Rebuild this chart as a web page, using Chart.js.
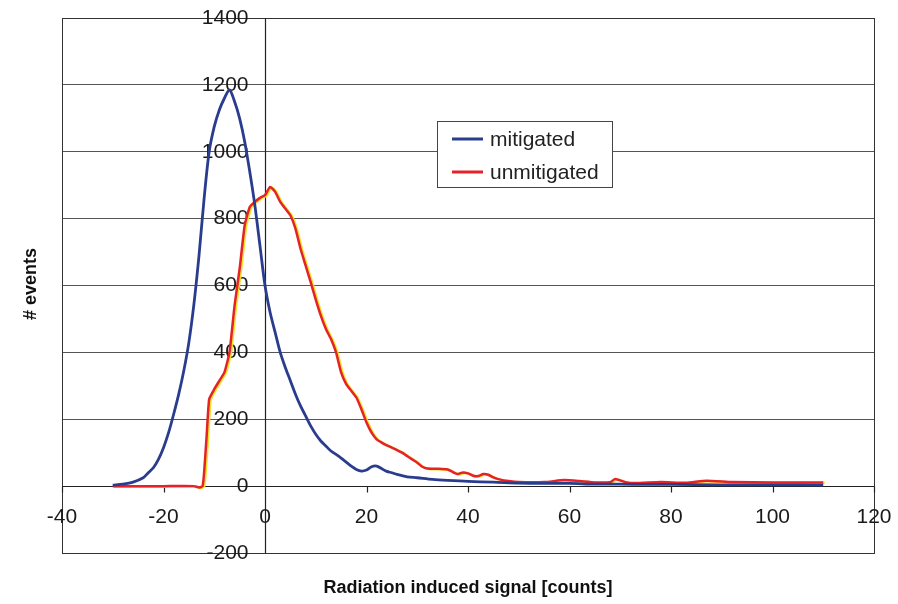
<!DOCTYPE html>
<html>
<head>
<meta charset="utf-8">
<script src="https://cdn.jsdelivr.net/npm/chart.js@4/dist/chart.umd.min.js"></script>
<style>
  html, body { margin: 0; padding: 0; background: #fff; }
</style>
</head>
<body>
<canvas id="chart" width="898" height="604"></canvas>
<script>
// 读自原图的数据
const seriesNames = ['mitigated', 'unmitigated'];

const xMitigated = [-30, -28, -26, -24, -23, -22, -21, -20, -19, -18, -17, -16, -15, -14, -13, -12, -11, -10, -9, -8, -7, -6, -5, -4, -3, -2, -1, 0, 1, 2, 3, 4, 5, 6, 7, 8, 9, 10, 11, 12, 13, 14, 15, 16, 17, 18, 19, 20, 21, 22, 23, 24, 25, 26, 28, 30, 33, 36, 40, 45, 50, 55, 60, 65, 70, 75, 80, 90, 100, 110];
const yMitigated = [3, 6, 12, 25, 40, 55, 80, 115, 160, 215, 275, 345, 430, 545, 690, 860, 1000, 1075, 1125, 1160, 1185, 1150, 1100, 1030, 940, 840, 720, 600, 520, 460, 400, 355, 315, 275, 240, 210, 180, 155, 135, 120, 105, 95, 84, 72, 60, 50, 45, 48, 58, 60, 52, 44, 40, 35, 28, 25, 20, 17, 14, 12, 9, 8, 8, 6, 6, 5, 5, 4, 4, 3];

const xUnmitigated = [-30, -20, -14, -13, -12.3, -12, -11.5, -11, -10, -9, -8, -7, -6, -5, -4, -3, -2, -1, 0, 1, 2, 3, 4, 5, 6, 7, 8, 9, 10, 11, 12, 13, 14, 15, 16, 17, 18, 19, 20, 21, 22, 23, 24, 25, 26, 27, 28, 29, 30, 31, 32, 34, 36, 37, 38, 39, 40, 41, 42, 43, 44, 45, 46, 48, 50, 55, 59, 62, 65, 68, 69, 71, 73, 78, 83, 87, 92, 100, 110];
const yUnmitigated = [0, 0, 0, -4, 0, 40, 150, 260, 290, 315, 340, 400, 540, 650, 780, 835, 850, 862, 870, 895, 880, 850, 830, 810, 770, 710, 660, 610, 558, 510, 470, 440, 400, 340, 305, 285, 265, 230, 190, 160, 140, 130, 122, 115, 108, 100, 90, 80, 70, 58, 53, 52, 50, 42, 36, 41, 38, 31, 30, 36, 34, 26, 21, 15, 12, 12, 18, 15, 11, 12, 21, 12, 9, 12, 10, 16, 12, 11, 11];

const xTicks = [-40, -20, 0, 20, 40, 60, 80, 100, 120];
const yTicks = [-200, 0, 200, 400, 600, 800, 1000, 1200, 1400];

const xTitle = 'Radiation induced signal [counts]';
const yTitle = '# events';

const FONT = '"Liberation Sans", Arial, sans-serif';
const colors = {
  mitigated: '#2a3c8e',   // 深蓝
  unmitigated: '#e42228'  // 红
};

function toPoints(xs, ys) {
  return xs.map((x, i) => ({ x: x, y: ys[i] }));
}

// 轴线、刻度标签、标题、图例，都按比例尺换算位置
const axesPlugin = {
  id: 'crossAxes',
  beforeDatasetsDraw(chart) {
    const ctx = chart.ctx;
    const xs = chart.scales.x;
    const ys = chart.scales.y;
    const area = chart.chartArea;
    const x0 = Math.round(xs.getPixelForValue(0)) + 0.5;
    const y0 = Math.round(ys.getPixelForValue(0)) + 0.5;

    ctx.save();
    // 外框
    ctx.strokeStyle = '#333';
    ctx.lineWidth = 1;
    ctx.strokeRect(Math.round(area.left) + 0.5, Math.round(area.top) + 0.5,
      Math.round(area.right - area.left), Math.round(area.bottom - area.top));

    // 十字坐标轴
    ctx.strokeStyle = '#222';
    ctx.lineWidth = 1.2;
    ctx.beginPath();
    ctx.moveTo(x0, area.top);
    ctx.lineTo(x0, area.bottom);
    ctx.moveTo(area.left, y0);
    ctx.lineTo(area.right, y0);
    xTicks.forEach(v => {
      const px = Math.round(xs.getPixelForValue(v)) + 0.5;
      ctx.moveTo(px, y0);
      ctx.lineTo(px, y0 + 6);
    });
    ctx.stroke();

    // 刻度标签
    ctx.fillStyle = '#1a1a1a';
    ctx.font = '21px ' + FONT;
    ctx.textAlign = 'right';
    ctx.textBaseline = 'middle';
    yTicks.forEach(v => {
      ctx.fillText(String(v), x0 - 17, ys.getPixelForValue(v));
    });
    ctx.textAlign = 'center';
    xTicks.forEach(v => {
      ctx.fillText(String(v), xs.getPixelForValue(v), y0 + 31);
    });

    // 轴标题
    ctx.font = 'bold 18px ' + FONT;
    ctx.fillStyle = '#111';
    ctx.fillText(xTitle, (area.left + area.right) / 2, 588);
    ctx.save();
    ctx.translate(31, 284);
    ctx.rotate(-Math.PI / 2);
    ctx.fillText(yTitle, 0, 0);
    ctx.restore();
    ctx.restore();
  },
  beforeDatasetDraw(chart, args) {
    // 红线带一点黄色描边，像原图扫描效果
    if (args.index === 1) {
      const ctx = chart.ctx;
      ctx.save();
      ctx.shadowColor = 'rgba(245,225,30,0.95)';
      ctx.shadowOffsetX = 1.5;
      ctx.shadowOffsetY = 0.5;
      ctx.shadowBlur = 0;
    }
  },
  afterDatasetDraw(chart, args) {
    if (args.index === 1) chart.ctx.restore();
  },
  afterDraw(chart) {
    const ctx = chart.ctx;
    const bx = 437, by = 121, bw = 175, bh = 66;
    ctx.save();
    ctx.fillStyle = '#fff';
    ctx.fillRect(bx, by, bw, bh);
    ctx.strokeStyle = '#444';
    ctx.lineWidth = 1;
    ctx.strokeRect(bx + 0.5, by + 0.5, bw, bh);
    ctx.font = '21px ' + FONT;
    ctx.textAlign = 'left';
    ctx.textBaseline = 'middle';
    chart.data.datasets.forEach((ds, i) => {
      const ly = by + 18 + i * 33;
      ctx.strokeStyle = ds.borderColor;
      ctx.lineWidth = 3;
      ctx.beginPath();
      ctx.moveTo(bx + 15, ly);
      ctx.lineTo(bx + 46, ly);
      ctx.stroke();
      ctx.fillStyle = '#222';
      ctx.fillText(ds.label, bx + 53, ly + 1);
    });
    ctx.restore();
  }
};

const ctx = document.getElementById('chart').getContext('2d');
const chart = new Chart(ctx, {
  type: 'line',
  data: {
    datasets: [
      {
        label: seriesNames[0],
        data: toPoints(xMitigated, yMitigated),
        borderColor: colors.mitigated,
        borderWidth: 2.8,
        pointRadius: 0,
        tension: 0.3,
        fill: false
      },
      {
        label: seriesNames[1],
        data: toPoints(xUnmitigated, yUnmitigated),
        borderColor: colors.unmitigated,
        borderWidth: 2.5,
        pointRadius: 0,
        tension: 0.15,
        fill: false
      }
    ]
  },
  options: {
    responsive: false,
    animation: false,
    layout: { padding: { left: 62, right: 24, top: 18, bottom: 51 } },
    plugins: {
      legend: { display: false },
      tooltip: { enabled: false }
    },
    scales: {
      x: {
        type: 'linear',
        min: -40,
        max: 120,
        ticks: { display: false, stepSize: 20 },
        grid: { display: false, drawTicks: false },
        border: { display: false }
      },
      y: {
        min: -200,
        max: 1400,
        ticks: { display: false, stepSize: 200 },
        grid: {
          drawTicks: false,
          color: '#555',
          lineWidth: 1
        },
        border: { display: false }
      }
    }
  },
  plugins: [axesPlugin]
});
</script>
</body>
</html>
